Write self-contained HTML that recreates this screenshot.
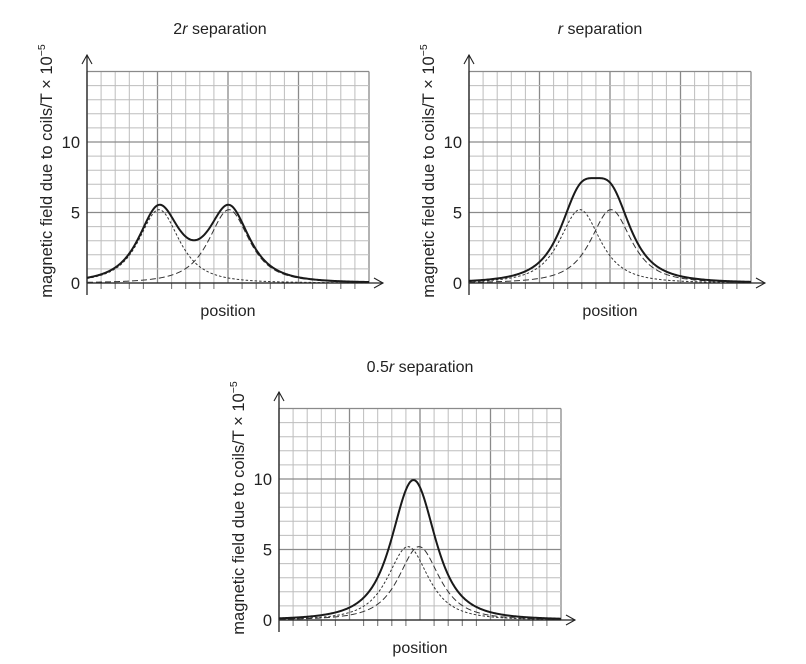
<!DOCTYPE html>
<html><head><meta charset="utf-8"><style>
body{margin:0;background:#fff;}
svg{display:block;font-family:"Liberation Sans",Arial,sans-serif;}
</style></head><body>
<svg id="s" width="806" height="664" viewBox="0 0 806 664" xmlns="http://www.w3.org/2000/svg"></svg>
<script>
const s=document.getElementById('s');
let h='';
const C=14.1;
function chart(ox,oy,title,tx,ty,peaks,R){
  for(let i=0;i<=20;i++){
    const x=ox+i*C, maj=i%5==0;
    h+=`<line x1="${x}" y1="${oy-15*C}" x2="${x}" y2="${oy+(maj?0:6)}" stroke="${maj?'#8a8a8a':'#bdbdbd'}" stroke-width="${maj?1.3:1}"/>`;
    if(!maj) h+=`<line x1="${x}" y1="${oy}" x2="${x}" y2="${oy+6}" stroke="#777" stroke-width="1"/>`;
  }
  for(let j=0;j<=15;j++){
    const y=oy-j*C, maj=j%5==0;
    h+=`<line x1="${ox}" y1="${y}" x2="${ox+20*C}" y2="${y}" stroke="${maj?'#8a8a8a':'#bdbdbd'}" stroke-width="${maj?1.3:1}"/>`;
  }
  h+=`<line x1="${ox}" y1="${oy+12}" x2="${ox}" y2="${oy-228}" stroke="#222" stroke-width="1.3"/>`;
  h+=`<polyline points="${ox-5},${oy-219} ${ox},${oy-228} ${ox+5},${oy-219}" fill="none" stroke="#222" stroke-width="1.1"/>`;
  h+=`<line x1="${ox}" y1="${oy}" x2="${ox+20*C+14}" y2="${oy}" stroke="#222" stroke-width="1.3"/>`;
  h+=`<polyline points="${ox+20*C+5},${oy-5} ${ox+20*C+14},${oy} ${ox+20*C+5},${oy+5}" fill="none" stroke="#222" stroke-width="1.1"/>`;
  [[0,'0'],[5,'5'],[10,'10']].forEach(([v,t])=>{
    h+=`<text x="${ox-7}" y="${oy-v*C+6}" font-size="16.5" text-anchor="end" fill="#222">${t}</text>`;
  });
  h+=`<text x="${ox+141}" y="${oy+33}" font-size="16" text-anchor="middle" fill="#222">position</text>`;
  h+=`<text transform="translate(${ox-35},${oy-112}) rotate(-90)" font-size="16.5" text-anchor="middle" fill="#222">magnetic field due to coils/T × 10<tspan dy="-7" font-size="10.5">−5</tspan></text>`;
  h+=`<text x="${tx}" y="${ty}" font-size="16" text-anchor="middle" fill="#222">${title}</text>`;
  const f=(x,p)=>5.2*Math.pow(1+((x-p)/R)**2,-1.5);
  const path=(fn)=>{let d='';for(let x=ox;x<=ox+20*C;x+=1){d+=(d?'L':'M')+x.toFixed(1)+','+(oy-fn(x)*C).toFixed(2);}return d;};
  h+=`<path d="${path(x=>f(x,peaks[0]))}" fill="none" stroke="#333" stroke-width="1" stroke-dasharray="2.5,2"/>`;
  h+=`<path d="${path(x=>f(x,peaks[1]))}" fill="none" stroke="#333" stroke-width="1" stroke-dasharray="6,3"/>`;
  h+=`<path d="${path(x=>f(x,peaks[0])+f(x,peaks[1]))}" fill="none" stroke="#1a1a1a" stroke-width="2"/>`;
}
chart(87,283,'2<tspan font-style="italic">r</tspan> separation',220,34,[159,229],31);
chart(469,283,'<tspan font-style="italic">r</tspan> separation',600,34,[580,611],31);
chart(279,620,'0.5<tspan font-style="italic">r</tspan> separation',420,372,[408,419],31);
s.innerHTML=h;
</script>
</body></html>
